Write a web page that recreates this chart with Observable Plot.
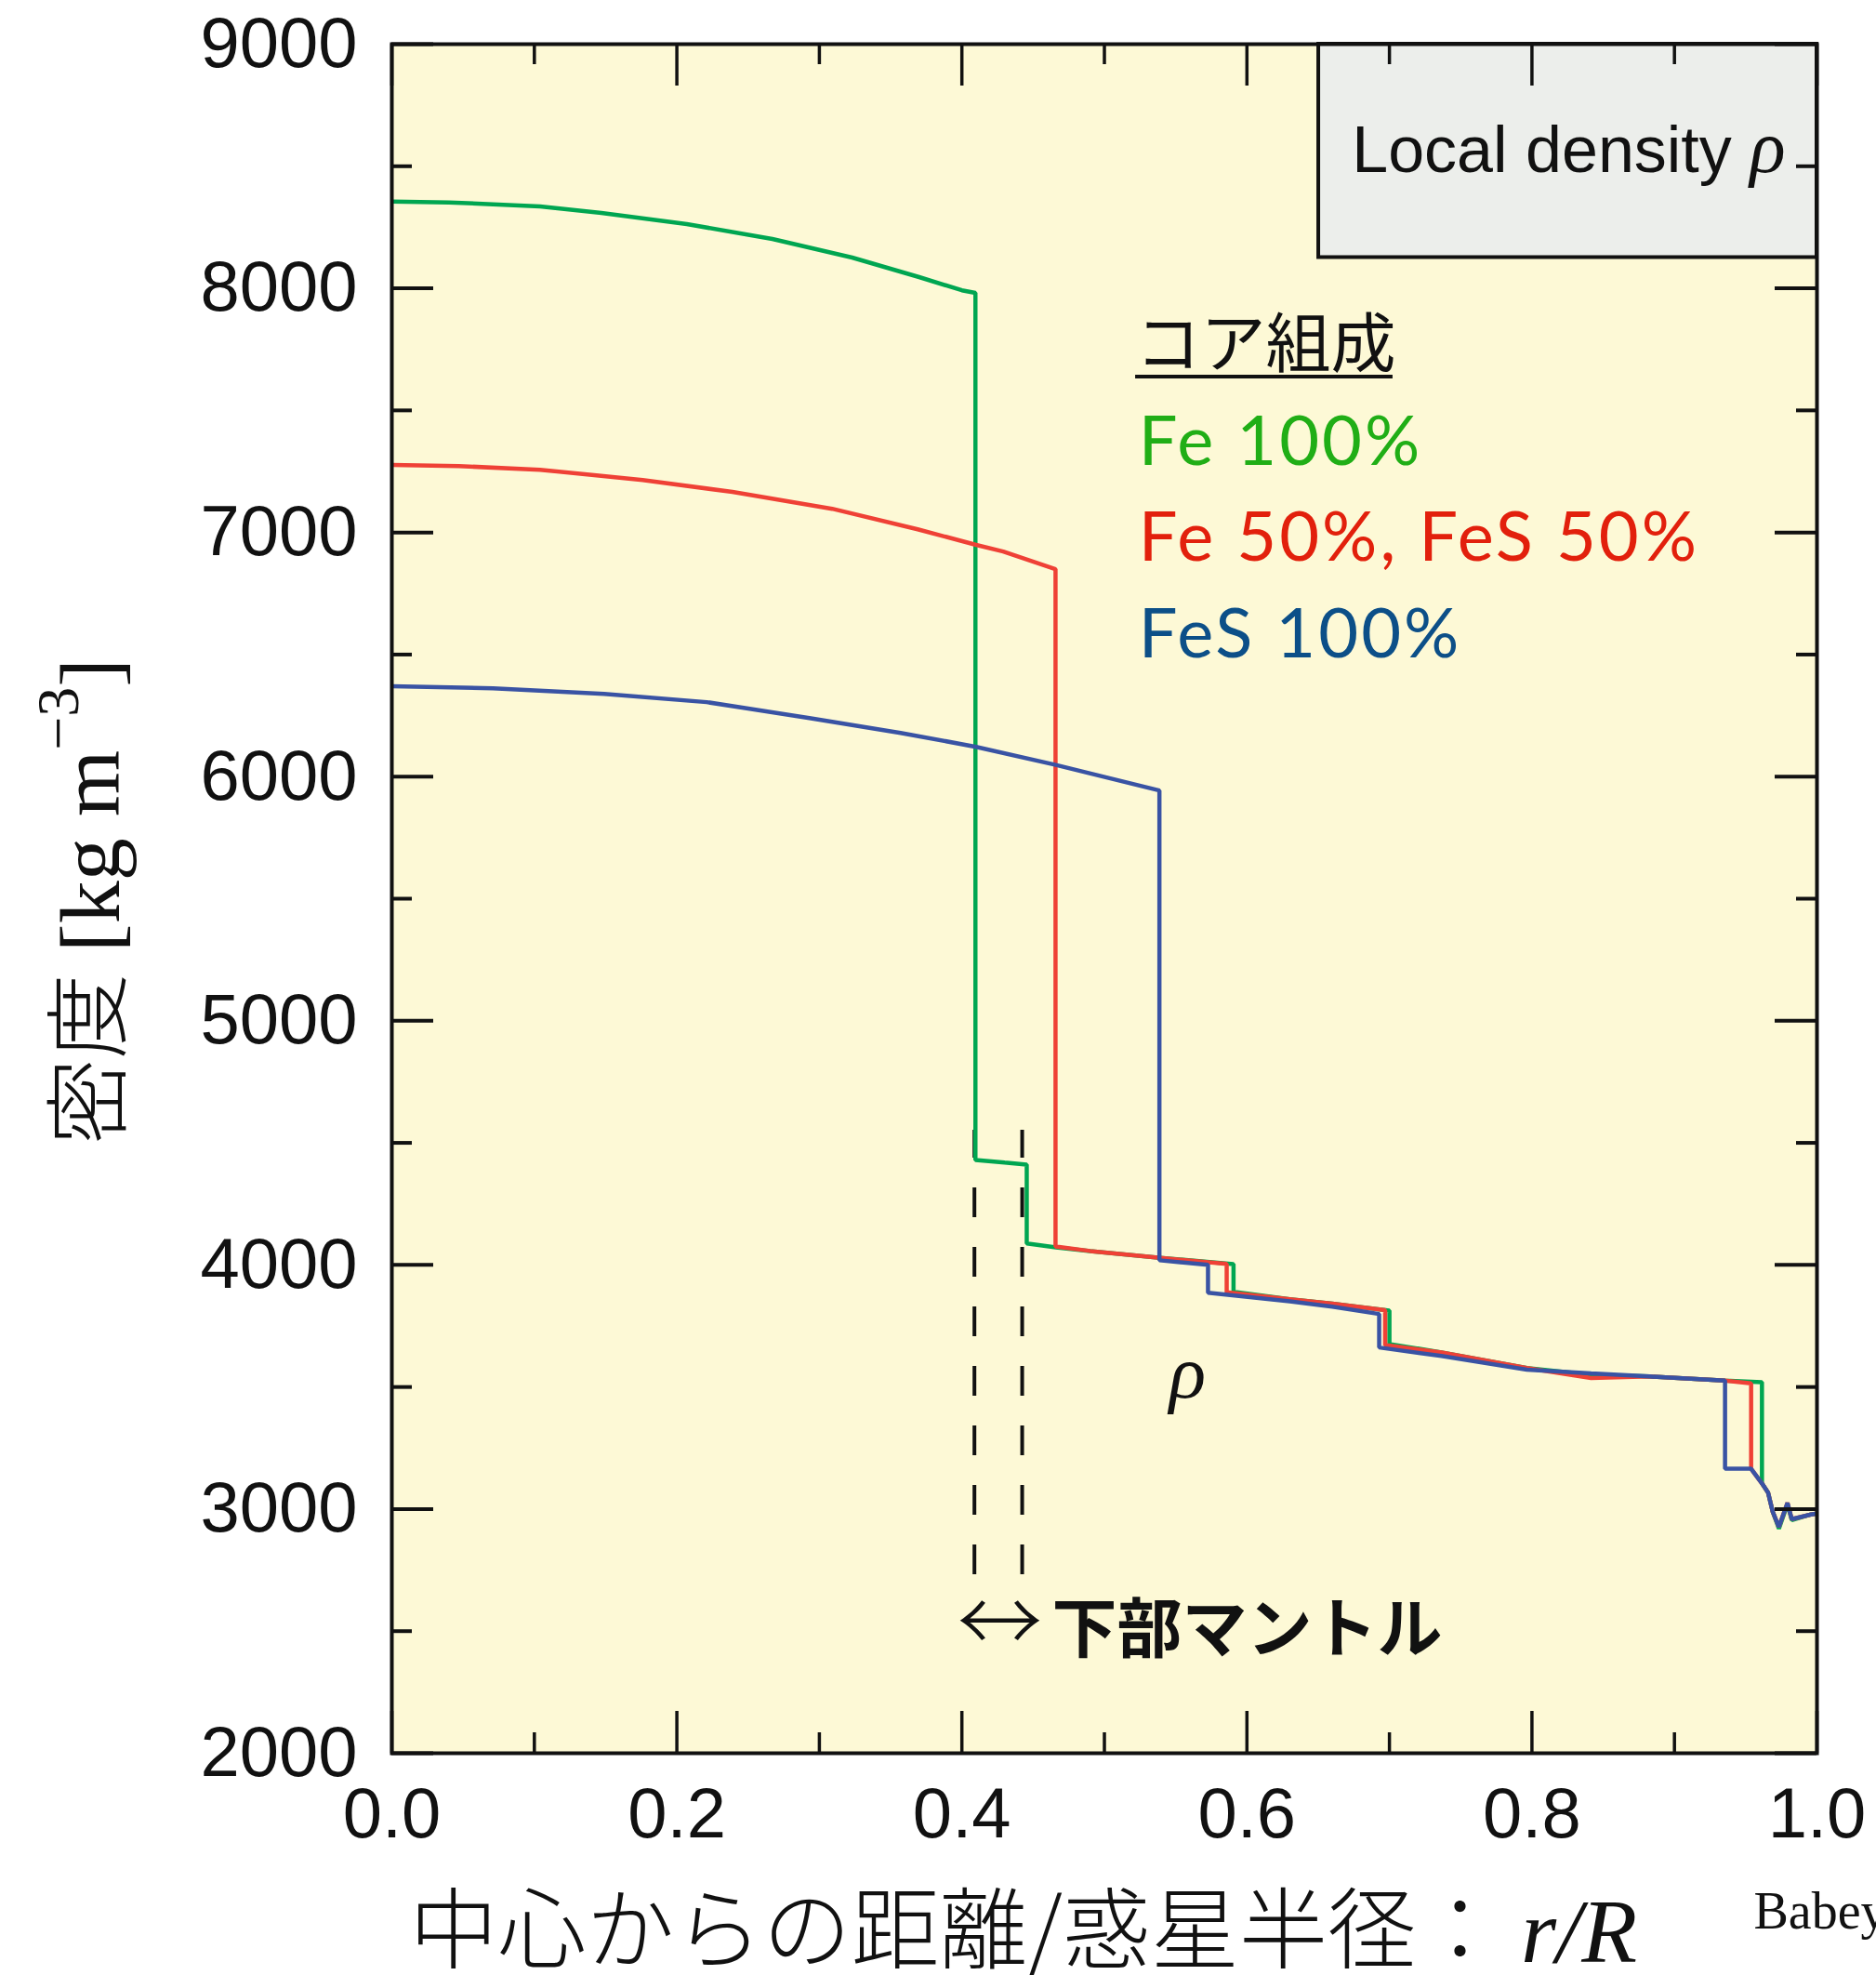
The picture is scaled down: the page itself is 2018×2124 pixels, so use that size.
<!DOCTYPE html>
<html>
<head>
<meta charset="utf-8">
<script src="https://cdn.jsdelivr.net/npm/d3@7"></script>
<script src="https://cdn.jsdelivr.net/npm/@observablehq/plot@0.6"></script>
<style>
html, body { margin: 0; padding: 0; background: #ffffff; overflow: hidden; }
#chart svg { display: block; }
</style>
</head>
<body>
<div id="chart"></div>
<script>
// ---------- data ----------
const fe100R   = [0, 0.04, 0.06, 0.104, 0.147, 0.207, 0.267, 0.323, 0.370, 0.400, 0.4095, 0.4095, 0.43, 0.4455, 0.4455, 0.466, 0.49, 0.5375, 0.5906, 0.5906, 0.63, 0.66, 0.700, 0.700, 0.7365, 0.7965, 0.8415, 0.8826, 0.9355, 0.9614, 0.9614, 0.9657, 0.9689, 0.9733, 0.9793, 0.9823, 0.9958, 1.0];
const fe100Rho = [8355, 8352, 8347, 8335, 8309, 8263, 8202, 8126, 8046, 7992, 7981, 4430, 4419, 4411, 4088, 4072, 4057, 4030, 4003, 3890, 3860, 3841, 3813, 3676, 3642, 3578, 3550, 3543, 3526, 3520, 3105, 3067, 2990, 2920, 3020, 2955, 2978, 2982];

const fe50R    = [0, 0.047, 0.104, 0.176, 0.239, 0.309, 0.369, 0.41, 0.429, 0.4657, 0.4657, 0.49, 0.5375, 0.5858, 0.5858, 0.63, 0.66, 0.697, 0.697, 0.7365, 0.7965, 0.8415, 0.8826, 0.9355, 0.9538, 0.9538, 0.9614, 0.9657, 0.9689, 0.9733, 0.9793, 0.9823, 0.9958, 1.0];
const fe50Rho  = [7277, 7272, 7257, 7215, 7166, 7097, 7013, 6949, 6922, 6850, 4076, 4057, 4030, 4004, 3888, 3860, 3841, 3815, 3672, 3642, 3578, 3537, 3543, 3526, 3515, 3165, 3105, 3067, 2990, 2927, 3025, 2959, 2978, 2982];

const fesR     = [0, 0.071, 0.149, 0.221, 0.293, 0.357, 0.41, 0.4645, 0.5386, 0.5386, 0.5727, 0.5727, 0.63, 0.66, 0.6928, 0.6928, 0.7365, 0.7965, 0.8415, 0.8826, 0.9355, 0.9355, 0.9538, 0.9614, 0.9657, 0.9689, 0.9733, 0.9793, 0.9823, 0.9958, 1.0];
const fesRho   = [6370, 6362, 6339, 6305, 6240, 6179, 6122, 6050, 5943, 4019, 4000, 3886, 3851, 3829, 3799, 3662, 3627, 3571, 3556, 3543, 3526, 3165, 3165, 3105, 3067, 2990, 2927, 3025, 2959, 2978, 2982];

const seriesNames  = ["Fe 100%", "Fe 50%, FeS 50%", "FeS 100%"];
const lineColors   = ["#00a651", "#ef4136", "#3953a4"];
const legendColors = ["#20ae16", "#e2200c", "#0c4f88"];

const xMajor = [0, 0.2, 0.4, 0.6, 0.8, 1.0];
const xMinor = [0.1, 0.3, 0.5, 0.7, 0.9];
const yMajor = [2000, 3000, 4000, 5000, 6000, 7000, 8000, 9000];
const yMinor = [2500, 3500, 4500, 5500, 6500, 7500, 8500];

const xTitle = "中心からの距離/惑星半径：r/R";
const yTitle = "密度 [kg m−3]";
const boxTitle = "Local density ρ";
const legendTitle = "コア組成";
const mantleLabel = "↔下部マントル";
const rhoLabel = "ρ";
const sourceLabel = "Babeyko and Zharkov (2000)";

// annotation anchors (data units)
const boxRect = {x1: 0.6504, x2: 1.0, y1: 8126, y2: 9000};
const boxText = {x: 0.8258, y: 8476};
const legendX = 0.5219;
const legendTitleY = 7676;
const legendUnderline = {x1: 0.5219, x2: 0.7025, y: 7638};
const legendY = [7276, 6884, 6488];
const dashX = [0.4088, 0.4423];
const dashY = {y1: 2731, y2: 4552};
const mantlePos = {x: 0.3966, y: 2415};
const rhoPos = {x: 0.5584, y: 3455};

// ---------- build tables ----------
const toRows = (rs, rhos, name) => rs.map((r, i) => ({r, rho: rhos[i], name}));
const lines = [
  toRows(fe100R, fe100Rho, seriesNames[0]),
  toRows(fe50R, fe50Rho, seriesNames[1]),
  toRows(fesR, fesRho, seriesNames[2])
];
const legendRows = seriesNames.map((name, i) => ({name, y: legendY[i], color: legendColors[i]}));

// ---------- layout ----------
const W = 2018, H = 2124;
const mL = 421, mR = 64, mT = 47, mB = 239;
const innerW = W - mL - mR;
const innerH = H - mT - mB;
const ink = "#111111";
const cjk = "'Noto Sans CJK JP', 'Noto Sans CJK SC', sans-serif";
const serif = "'Liberation Serif', 'DejaVu Serif', serif";
const sans = "'Liberation Sans', Arial, sans-serif";

const svg = Plot.plot({
  width: W,
  height: H,
  marginLeft: mL,
  marginRight: mR,
  marginTop: mT,
  marginBottom: mB,
  style: {fontFamily: sans, fontSize: "76px", color: ink, background: "#ffffff"},
  x: {domain: [0, 1], label: null},
  y: {domain: [2000, 9000], label: null},
  marks: [
    Plot.frame({fill: "#fdf9d6", stroke: null}),
    Plot.rect([boxRect], {x1: "x1", x2: "x2", y1: "y1", y2: "y2", fill: "#eceeeb", stroke: ink, strokeWidth: 4}),
    Plot.ruleX(dashX, {x: d => d, y1: dashY.y1, y2: dashY.y2, stroke: ink, strokeWidth: 4, strokeDasharray: "32,32"}),
    ...lines.map((rows, i) => Plot.line(rows, {x: "r", y: "rho", stroke: lineColors[i], strokeWidth: 4.5, strokeLinejoin: "miter", strokeLinecap: "butt"})),
    // inward ticks
    Plot.tickY(yMajor, {y: d => d, insetRight: innerW - 45, stroke: ink, strokeWidth: 4}),
    Plot.tickY(yMajor, {y: d => d, insetLeft: innerW - 45, stroke: ink, strokeWidth: 4}),
    Plot.tickY(yMinor, {y: d => d, insetRight: innerW - 22, stroke: ink, strokeWidth: 4}),
    Plot.tickY(yMinor, {y: d => d, insetLeft: innerW - 22, stroke: ink, strokeWidth: 4}),
    Plot.tickX(xMajor, {x: d => d, insetTop: innerH - 45, stroke: ink, strokeWidth: 3.5}),
    Plot.tickX(xMajor, {x: d => d, insetBottom: innerH - 45, stroke: ink, strokeWidth: 3.5}),
    Plot.tickX(xMinor, {x: d => d, insetTop: innerH - 22, stroke: ink, strokeWidth: 3.5}),
    Plot.tickX(xMinor, {x: d => d, insetBottom: innerH - 22, stroke: ink, strokeWidth: 3.5}),
    Plot.frame({stroke: ink, strokeWidth: 4}),
    // tick labels
    Plot.axisY(yMajor, {anchor: "left", tickSize: 0, tickPadding: 37, fontSize: 76, label: null, fill: ink, tickFormat: d3.format("d")}),
    Plot.axisX(xMajor, {anchor: "bottom", tickSize: 0, tickPadding: 37, fontSize: 76, label: null, fill: ink, tickFormat: d3.format(".1f")}),
    // annotations
    Plot.text([boxTitle], {x: boxText.x, y: boxText.y, textAnchor: "middle", lineAnchor: "bottom", fontSize: 70, fontFamily: sans, fill: ink}),
    Plot.text([legendTitle], {x: legendX, y: legendTitleY, textAnchor: "start", lineAnchor: "bottom", fontSize: 70, fontFamily: cjk, fill: ink}),
    Plot.ruleY([legendUnderline], {x1: "x1", x2: "x2", y: "y", stroke: ink, strokeWidth: 4}),
    Plot.text(legendRows, {x: legendX + 0.002, y: "y", text: "name", fill: "color", textAnchor: "start", lineAnchor: "bottom", fontSize: 74, fontFamily: "Lato, 'Noto Sans', sans-serif"}),
    Plot.text([rhoLabel], {x: rhoPos.x, y: rhoPos.y, textAnchor: "middle", lineAnchor: "bottom", fontSize: 82, fontStyle: "italic", fontFamily: serif, fill: ink}),
    Plot.text([mantleLabel], {x: mantlePos.x, y: mantlePos.y, textAnchor: "start", lineAnchor: "bottom", fontSize: 70, fontFamily: cjk, fill: ink}),
    // titles
    Plot.text([xTitle], {frameAnchor: "bottom-left", dx: 19, dy: 224, textAnchor: "start", lineAnchor: "bottom", fontSize: 95, fontFamily: cjk, fontWeight: 300, fill: ink}),
    Plot.text([yTitle], {frameAnchor: "left", rotate: -90, dx: -294, dy: 3, textAnchor: "middle", lineAnchor: "bottom", fontSize: 92, fontFamily: cjk, fontWeight: 300, fill: ink}),
    Plot.text([sourceLabel], {frameAnchor: "bottom-right", dx: -68, dy: 188, textAnchor: "start", lineAnchor: "bottom", fontSize: 56, fontFamily: serif, fill: ink})
  ]
});

// ---------- mixed-style text runs ----------
const root = d3.select(svg);
function restyle(match, parts) {
  root.selectAll("text").filter(function () { return this.textContent === match; }).each(function () {
    const t = d3.select(this);
    t.text(null);
    for (const p of parts) {
      const ts = t.append("tspan").text(p.text);
      for (const k in (p.attrs || {})) ts.attr(k, p.attrs[k]);
    }
  });
}
restyle(boxTitle, [
  {text: "Local density "},
  {text: "ρ", attrs: {"font-family": serif, "font-style": "italic", "font-size": 80}}
]);
restyle(yTitle, [
  {text: "密度"},
  {text: " [kg m", attrs: {"font-family": serif, "font-weight": 400}},
  {text: "−3", attrs: {"font-family": serif, "font-weight": 400, "font-size": 64, dy: -44}},
  {text: "]", attrs: {"font-family": serif, "font-weight": 400, dy: 44}}
]);
restyle(xTitle, [
  {text: "中心からの距離/惑星半径："},
  {text: "r/R", attrs: {"font-family": serif, "font-style": "italic", "font-size": 98, dx: 18}}
]);
restyle(mantleLabel, [
  {text: "↔", attrs: {"font-weight": 300, "font-size": 92}},
  {text: "下部マントル", attrs: {"font-weight": 700, dx: 10}}
]);
root.selectAll("text").filter(function () { return seriesNames.includes(this.textContent); })
  .attr("letter-spacing", 3);

document.getElementById("chart").appendChild(svg);
</script>
</body>
</html>
